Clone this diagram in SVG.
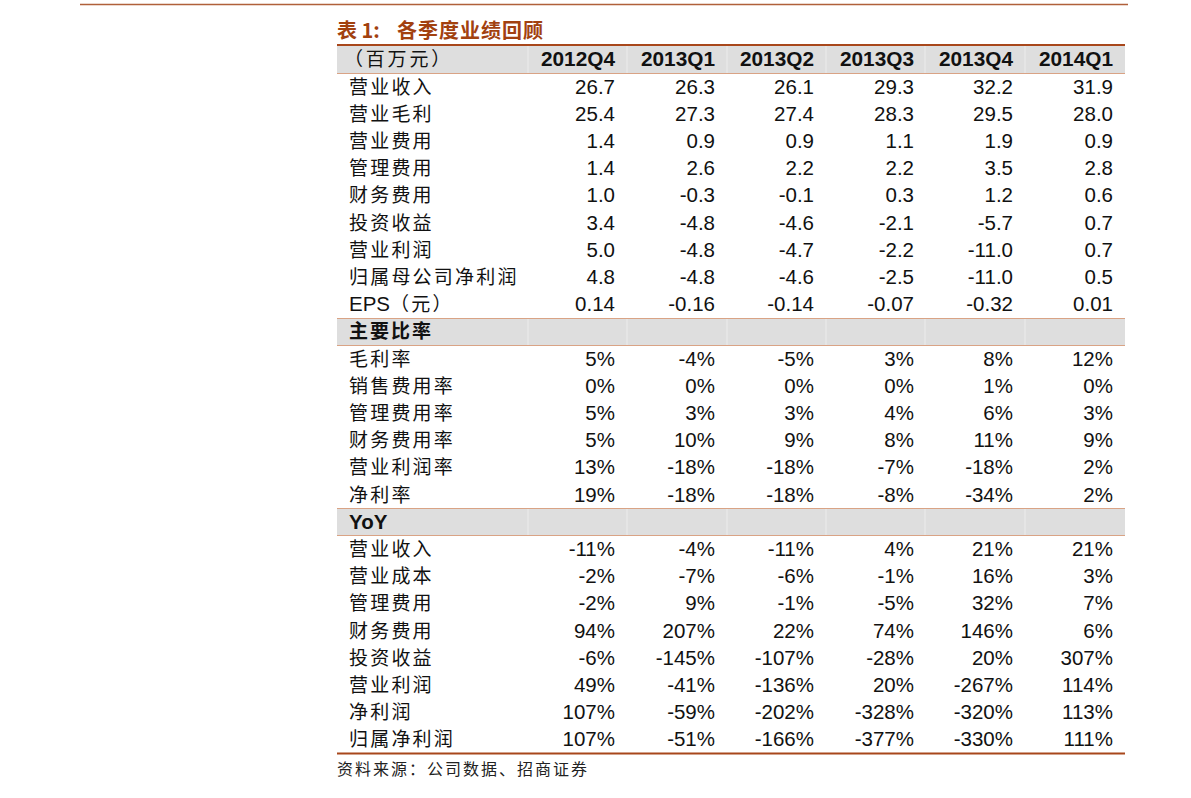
<svg xmlns="http://www.w3.org/2000/svg" width="1191" height="798" viewBox="0 0 1191 798">
<style>
.lbl{font-family:"Noto Sans CJK SC","Liberation Sans",sans-serif;font-size:19px;letter-spacing:2.2px;fill:#111}
.sec{font-family:"Noto Sans CJK SC","Liberation Sans",sans-serif;font-size:19px;font-weight:bold;letter-spacing:2px;fill:#111}
.num{font-family:"Liberation Sans",Arial,sans-serif;font-size:20.5px;fill:#111;text-anchor:end}
.hdr{font-family:"Liberation Sans",Arial,sans-serif;font-size:20.8px;font-weight:bold;fill:#111;text-anchor:end}
.title{font-family:"Noto Sans CJK SC","Liberation Sans",sans-serif;font-size:20px;font-weight:bold;fill:#a2410f}
.src{font-family:"Noto Sans CJK SC","Liberation Sans",sans-serif;font-size:16px;letter-spacing:2px;fill:#222}
.band{fill:#dedede}
.thin{stroke:#d9a385;stroke-width:1.2}
.thick{stroke:#a8471b;stroke-width:2}
.sep{stroke:#ececec;stroke-width:1}
</style>
<rect width="1191" height="798" fill="#ffffff"/>
<line x1="80" y1="4.5" x2="1128" y2="4.5" stroke="#b0603a" stroke-width="1.5"/>
<text class="title" y="38"><tspan x="337">表 1:</tspan><tspan x="397" letter-spacing="1">各季度业绩回顾</tspan></text>

<g id="bands">
<rect class="band" x="337" y="45" width="788" height="28.5"/>
<rect class="band" x="337" y="318.5" width="788" height="27"/>
<rect class="band" x="337" y="508.5" width="788" height="27"/>
<g class="sep">
<line x1="528" y1="46" x2="528" y2="73"/><line x1="627" y1="46" x2="627" y2="73"/><line x1="727" y1="46" x2="727" y2="73"/><line x1="826" y1="46" x2="826" y2="73"/><line x1="925" y1="46" x2="925" y2="73"/><line x1="1025" y1="46" x2="1025" y2="73"/>
<line x1="528" y1="319" x2="528" y2="345"/><line x1="627" y1="319" x2="627" y2="345"/><line x1="727" y1="319" x2="727" y2="345"/><line x1="826" y1="319" x2="826" y2="345"/><line x1="925" y1="319" x2="925" y2="345"/><line x1="1025" y1="319" x2="1025" y2="345"/>
<line x1="528" y1="509" x2="528" y2="535"/><line x1="627" y1="509" x2="627" y2="535"/><line x1="727" y1="509" x2="727" y2="535"/><line x1="826" y1="509" x2="826" y2="535"/><line x1="925" y1="509" x2="925" y2="535"/><line x1="1025" y1="509" x2="1025" y2="535"/>
</g>
</g>

<g id="rules">
<line class="thick" x1="337" y1="45" x2="1125" y2="45"/>
<line class="thin" x1="337" y1="73.5" x2="1125" y2="73.5"/>
<line class="thin" x1="337" y1="318.5" x2="1125" y2="318.5"/>
<line class="thin" x1="337" y1="345.5" x2="1125" y2="345.5"/>
<line class="thin" x1="337" y1="508.5" x2="1125" y2="508.5"/>
<line class="thin" x1="337" y1="535.5" x2="1125" y2="535.5"/>
<line class="thick" x1="337" y1="753.5" x2="1125" y2="753.5"/>
</g>

<g id="header">
<text class="lbl" x="344" y="66" style="letter-spacing:2.8px">（百万元）</text>
<text class="hdr" x="615" y="66">2012Q4</text>
<text class="hdr" x="715" y="66">2013Q1</text>
<text class="hdr" x="814" y="66">2013Q2</text>
<text class="hdr" x="914" y="66">2013Q3</text>
<text class="hdr" x="1013" y="66">2013Q4</text>
<text class="hdr" x="1113" y="66">2014Q1</text>
</g>

<g id="section-main">
<g id="r0"><text class="lbl" x="349" y="93.6">营业收入</text><text class="num" x="615" y="93.6">26.7</text><text class="num" x="715" y="93.6">26.3</text><text class="num" x="814" y="93.6">26.1</text><text class="num" x="914" y="93.6">29.3</text><text class="num" x="1013" y="93.6">32.2</text><text class="num" x="1113" y="93.6">31.9</text></g>
<g id="r1"><text class="lbl" x="349" y="120.8">营业毛利</text><text class="num" x="615" y="120.8">25.4</text><text class="num" x="715" y="120.8">27.3</text><text class="num" x="814" y="120.8">27.4</text><text class="num" x="914" y="120.8">28.3</text><text class="num" x="1013" y="120.8">29.5</text><text class="num" x="1113" y="120.8">28.0</text></g>
<g id="r2"><text class="lbl" x="349" y="148">营业费用</text><text class="num" x="615" y="148">1.4</text><text class="num" x="715" y="148">0.9</text><text class="num" x="814" y="148">0.9</text><text class="num" x="914" y="148">1.1</text><text class="num" x="1013" y="148">1.9</text><text class="num" x="1113" y="148">0.9</text></g>
<g id="r3"><text class="lbl" x="349" y="175.2">管理费用</text><text class="num" x="615" y="175.2">1.4</text><text class="num" x="715" y="175.2">2.6</text><text class="num" x="814" y="175.2">2.2</text><text class="num" x="914" y="175.2">2.2</text><text class="num" x="1013" y="175.2">3.5</text><text class="num" x="1113" y="175.2">2.8</text></g>
<g id="r4"><text class="lbl" x="349" y="202.4">财务费用</text><text class="num" x="615" y="202.4">1.0</text><text class="num" x="715" y="202.4">-0.3</text><text class="num" x="814" y="202.4">-0.1</text><text class="num" x="914" y="202.4">0.3</text><text class="num" x="1013" y="202.4">1.2</text><text class="num" x="1113" y="202.4">0.6</text></g>
<g id="r5"><text class="lbl" x="349" y="229.6">投资收益</text><text class="num" x="615" y="229.6">3.4</text><text class="num" x="715" y="229.6">-4.8</text><text class="num" x="814" y="229.6">-4.6</text><text class="num" x="914" y="229.6">-2.1</text><text class="num" x="1013" y="229.6">-5.7</text><text class="num" x="1113" y="229.6">0.7</text></g>
<g id="r6"><text class="lbl" x="349" y="256.8">营业利润</text><text class="num" x="615" y="256.8">5.0</text><text class="num" x="715" y="256.8">-4.8</text><text class="num" x="814" y="256.8">-4.7</text><text class="num" x="914" y="256.8">-2.2</text><text class="num" x="1013" y="256.8">-11.0</text><text class="num" x="1113" y="256.8">0.7</text></g>
<g id="r7"><text class="lbl" x="349" y="284">归属母公司净利润</text><text class="num" x="615" y="284">4.8</text><text class="num" x="715" y="284">-4.8</text><text class="num" x="814" y="284">-4.6</text><text class="num" x="914" y="284">-2.5</text><text class="num" x="1013" y="284">-11.0</text><text class="num" x="1113" y="284">0.5</text></g>
<g id="r8"><text class="lbl" x="349" y="311.2"><tspan font-family="Liberation Sans, Arial, sans-serif" font-size="20.5" letter-spacing="0">EPS</tspan>（元）</text><text class="num" x="615" y="311.2">0.14</text><text class="num" x="715" y="311.2">-0.16</text><text class="num" x="814" y="311.2">-0.14</text><text class="num" x="914" y="311.2">-0.07</text><text class="num" x="1013" y="311.2">-0.32</text><text class="num" x="1113" y="311.2">0.01</text></g>
</g>

<g id="section-ratio">
<text class="sec" x="349" y="338.4">主要比率</text>
<g id="r10"><text class="lbl" x="349" y="365.6">毛利率</text><text class="num" x="615" y="365.6">5%</text><text class="num" x="715" y="365.6">-4%</text><text class="num" x="814" y="365.6">-5%</text><text class="num" x="914" y="365.6">3%</text><text class="num" x="1013" y="365.6">8%</text><text class="num" x="1113" y="365.6">12%</text></g>
<g id="r11"><text class="lbl" x="349" y="392.8">销售费用率</text><text class="num" x="615" y="392.8">0%</text><text class="num" x="715" y="392.8">0%</text><text class="num" x="814" y="392.8">0%</text><text class="num" x="914" y="392.8">0%</text><text class="num" x="1013" y="392.8">1%</text><text class="num" x="1113" y="392.8">0%</text></g>
<g id="r12"><text class="lbl" x="349" y="420">管理费用率</text><text class="num" x="615" y="420">5%</text><text class="num" x="715" y="420">3%</text><text class="num" x="814" y="420">3%</text><text class="num" x="914" y="420">4%</text><text class="num" x="1013" y="420">6%</text><text class="num" x="1113" y="420">3%</text></g>
<g id="r13"><text class="lbl" x="349" y="447.2">财务费用率</text><text class="num" x="615" y="447.2">5%</text><text class="num" x="715" y="447.2">10%</text><text class="num" x="814" y="447.2">9%</text><text class="num" x="914" y="447.2">8%</text><text class="num" x="1013" y="447.2">11%</text><text class="num" x="1113" y="447.2">9%</text></g>
<g id="r14"><text class="lbl" x="349" y="474.4">营业利润率</text><text class="num" x="615" y="474.4">13%</text><text class="num" x="715" y="474.4">-18%</text><text class="num" x="814" y="474.4">-18%</text><text class="num" x="914" y="474.4">-7%</text><text class="num" x="1013" y="474.4">-18%</text><text class="num" x="1113" y="474.4">2%</text></g>
<g id="r15"><text class="lbl" x="349" y="501.6">净利率</text><text class="num" x="615" y="501.6">19%</text><text class="num" x="715" y="501.6">-18%</text><text class="num" x="814" y="501.6">-18%</text><text class="num" x="914" y="501.6">-8%</text><text class="num" x="1013" y="501.6">-34%</text><text class="num" x="1113" y="501.6">2%</text></g>
</g>

<g id="section-yoy">
<text class="sec" x="349" y="528.8" style="font-family:'Liberation Sans',Arial,sans-serif;font-size:20.5px;letter-spacing:0">YoY</text>
<g id="r17"><text class="lbl" x="349" y="556">营业收入</text><text class="num" x="615" y="556">-11%</text><text class="num" x="715" y="556">-4%</text><text class="num" x="814" y="556">-11%</text><text class="num" x="914" y="556">4%</text><text class="num" x="1013" y="556">21%</text><text class="num" x="1113" y="556">21%</text></g>
<g id="r18"><text class="lbl" x="349" y="583.2">营业成本</text><text class="num" x="615" y="583.2">-2%</text><text class="num" x="715" y="583.2">-7%</text><text class="num" x="814" y="583.2">-6%</text><text class="num" x="914" y="583.2">-1%</text><text class="num" x="1013" y="583.2">16%</text><text class="num" x="1113" y="583.2">3%</text></g>
<g id="r19"><text class="lbl" x="349" y="610.4">管理费用</text><text class="num" x="615" y="610.4">-2%</text><text class="num" x="715" y="610.4">9%</text><text class="num" x="814" y="610.4">-1%</text><text class="num" x="914" y="610.4">-5%</text><text class="num" x="1013" y="610.4">32%</text><text class="num" x="1113" y="610.4">7%</text></g>
<g id="r20"><text class="lbl" x="349" y="637.6">财务费用</text><text class="num" x="615" y="637.6">94%</text><text class="num" x="715" y="637.6">207%</text><text class="num" x="814" y="637.6">22%</text><text class="num" x="914" y="637.6">74%</text><text class="num" x="1013" y="637.6">146%</text><text class="num" x="1113" y="637.6">6%</text></g>
<g id="r21"><text class="lbl" x="349" y="664.8">投资收益</text><text class="num" x="615" y="664.8">-6%</text><text class="num" x="715" y="664.8">-145%</text><text class="num" x="814" y="664.8">-107%</text><text class="num" x="914" y="664.8">-28%</text><text class="num" x="1013" y="664.8">20%</text><text class="num" x="1113" y="664.8">307%</text></g>
<g id="r22"><text class="lbl" x="349" y="692">营业利润</text><text class="num" x="615" y="692">49%</text><text class="num" x="715" y="692">-41%</text><text class="num" x="814" y="692">-136%</text><text class="num" x="914" y="692">20%</text><text class="num" x="1013" y="692">-267%</text><text class="num" x="1113" y="692">114%</text></g>
<g id="r23"><text class="lbl" x="349" y="719.2">净利润</text><text class="num" x="615" y="719.2">107%</text><text class="num" x="715" y="719.2">-59%</text><text class="num" x="814" y="719.2">-202%</text><text class="num" x="914" y="719.2">-328%</text><text class="num" x="1013" y="719.2">-320%</text><text class="num" x="1113" y="719.2">113%</text></g>
<g id="r24"><text class="lbl" x="349" y="746.4">归属净利润</text><text class="num" x="615" y="746.4">107%</text><text class="num" x="715" y="746.4">-51%</text><text class="num" x="814" y="746.4">-166%</text><text class="num" x="914" y="746.4">-377%</text><text class="num" x="1013" y="746.4">-330%</text><text class="num" x="1113" y="746.4">111%</text></g>
</g>

<text class="src" x="337" y="775">资料来源：公司数据、招商证券</text>
</svg>
